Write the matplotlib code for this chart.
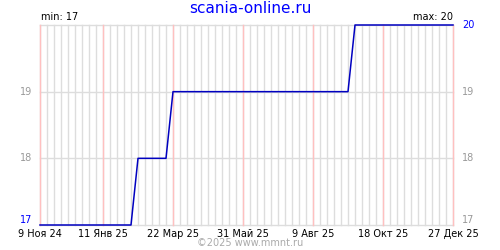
import numpy as np
import matplotlib
matplotlib.use("Agg")
import matplotlib.pyplot as plt
import matplotlib.dates as mdates
import datetime as dt

# weekly points
dates = ["2024-11-09", "2025-02-08", "2025-02-15", "2025-03-15", "2025-03-22",
         "2025-09-13", "2025-09-20", "2025-12-27"]
values = [17, 17, 18, 18, 19, 19, 20, 20]

tick_dates = ["2024-11-09", "2025-01-11", "2025-03-22", "2025-05-31",
              "2025-08-09", "2025-10-18", "2025-12-27"]
tick_labels = ["9 Ноя 24", "11 Янв 25", "22 Мар 25", "31 Май 25",
               "9 Авг 25", "18 Окт 25", "27 Дек 25"]
y_levels = [17, 18, 19, 20]

title = "scania-online.ru"
footer = "©2025 www.mmnt.ru"

x = [dt.datetime.strptime(d, "%Y-%m-%d") for d in dates]
xt = [dt.datetime.strptime(d, "%Y-%m-%d") for d in tick_dates]
start, end = xt[0], xt[-1]

fig = plt.figure(figsize=(5, 2.5), dpi=100)
ax = fig.add_axes([0.08, 0.1, 0.826, 0.8])

# weekly grey grid, pink every 10 weeks
wk = start
while wk <= end:
    ax.axvline(wk, color="#dddddd", lw=1, zorder=1, clip_on=False, snap=True)
    wk += dt.timedelta(days=7)
for t in xt:
    ax.axvline(t, color="#ffc0c0", lw=1, zorder=2, clip_on=False, snap=True)
for v in y_levels:
    ax.axhline(v, color="#dddddd", lw=1, zorder=1, clip_on=False, snap=True)

ax.plot(x, values, color="#0000c0", lw=1.1, zorder=3, clip_on=False)

ax.set_xlim(start, end)
ax.set_ylim(17, 20)
for s in ax.spines.values():
    s.set_visible(False)
ax.set_xticks(xt)
ax.set_xticklabels(tick_labels, fontsize=7)
ax.tick_params(axis="x", length=0, pad=3)
ax.set_yticks([])

# y labels both sides
ytr = ax.get_yaxis_transform()
for v in y_levels:
    if v == 20:
        ax.text(1.022, v, "20", transform=ytr, color="#0000ff",
                fontsize=7, va="center", ha="left")
    elif v == 17:
        ax.text(-0.018, v, "17", transform=ytr, color="#0000ff",
                fontsize=7, va="bottom", ha="right")
        ax.text(1.022, v, "17", transform=ytr, color="#999999",
                fontsize=7, va="bottom", ha="left")
    else:
        ax.text(-0.02, v, str(v), transform=ytr, color="#999999",
                fontsize=7, va="center", ha="right")
        ax.text(1.022, v, str(v), transform=ytr, color="#999999",
                fontsize=7, va="center", ha="left")

ax.text(0.003, 1.015, "min: %d" % min(values), transform=ax.transAxes, fontsize=7,
        ha="left", va="bottom")
ax.text(1.0, 1.015, "max: %d" % max(values), transform=ax.transAxes, fontsize=7,
        ha="right", va="bottom")

fig.text(0.5, 0.966, title, color="#0000ff", fontsize=11, ha="center", va="center")
fig.text(0.5, 0.028, footer, color="#aaaaaa", fontsize=7, ha="center", va="center")

fig.savefig("out.png", dpi=100)
